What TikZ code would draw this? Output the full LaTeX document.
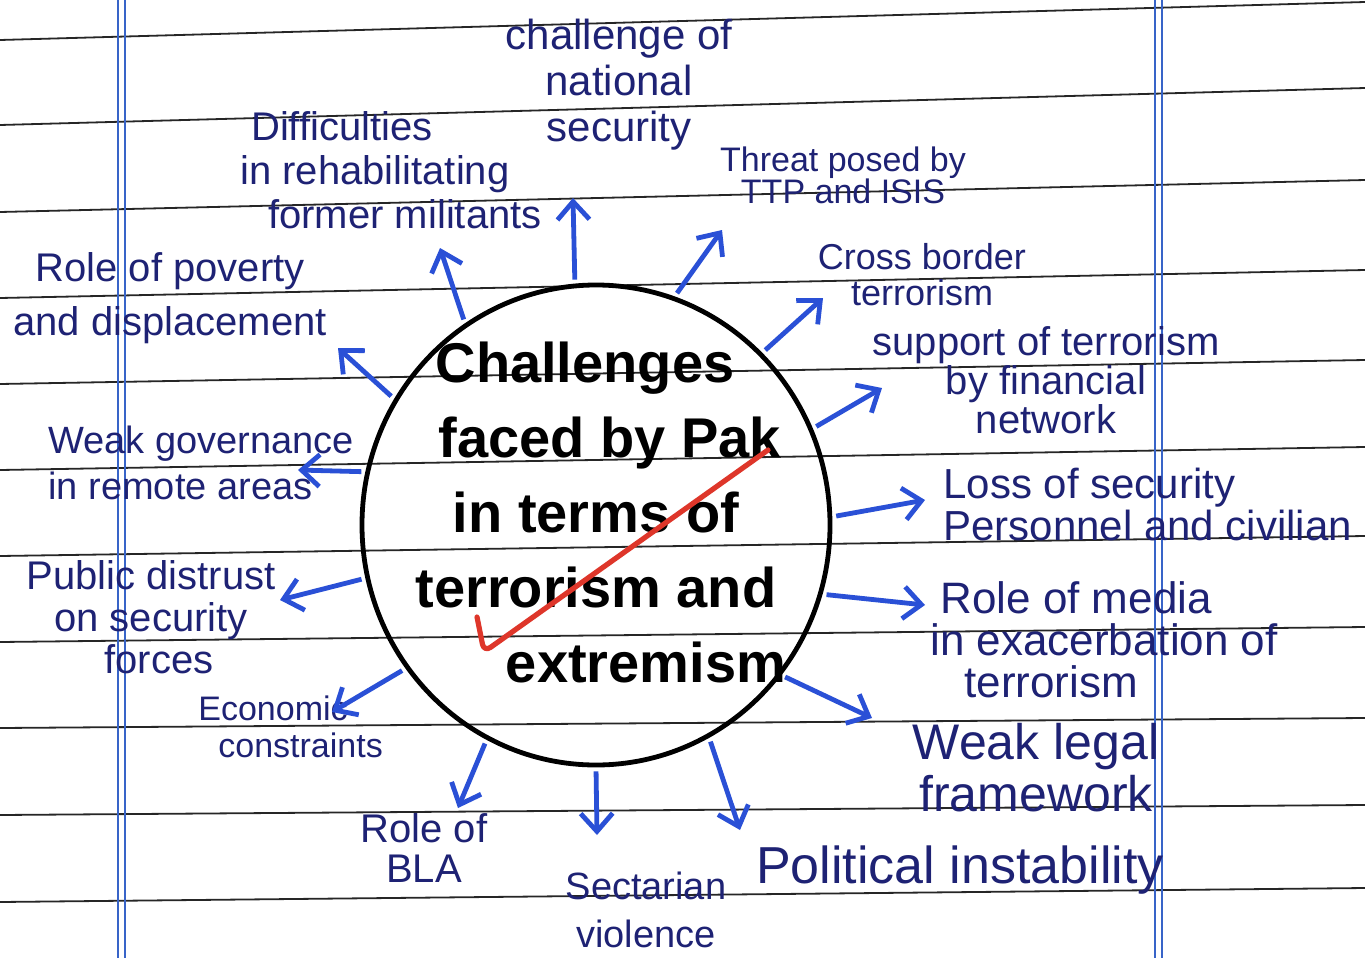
\documentclass[tikz,border=0pt]{standalone}
\usepackage{fontspec}
\setmainfont{Liberation Sans}
\usetikzlibrary{arrows.meta}
\usetikzlibrary{shapes.geometric}
\definecolor{inkblue}{RGB}{30,34,116}
\definecolor{penblue}{RGB}{42,80,214}
\definecolor{marginblue}{RGB}{56,100,200}
\definecolor{checkred}{RGB}{222,54,42}
\newcommand\penfont[2]{\fontsize{#1}{#2}\selectfont}

\begin{document}
\begin{tikzpicture}[x=0.5pt,y=-0.5pt,
  rule/.style={black!85,line width=0.9pt},
  marginline/.style={marginblue,line width=0.8pt},
  hub/.style={ellipse,draw,line width=2.4pt,minimum width=234pt,minimum height=240pt,inner sep=0pt},
  core/.style={align=center,font=\penfont{28}{37.5}\bfseries},
  topic/.style={inkblue,align=center,inner sep=0pt},
  branch/.style={penblue,line width=2.4pt,shorten <=2pt,-{Straight Barb[length=9pt,width=16pt]}}]

\useasboundingbox (0,0) rectangle (1365,958);
\fill[white] (0,0) rectangle (1365,958);

\foreach \yl/\yr in {40/2,125/88,212/180,298/270,384/360,470/447,556/536,642/627,728/718,815/805,902/888}
  \draw[rule] (0,\yl) -- (1365,\yr);
\foreach \xm in {118,125,1155,1162}
  \draw[marginline] (\xm,0) -- (\xm,958);

\node[hub] (hub) at (596,525) {};
\node[core] (title) at (596,512) {Challenges\hspace*{11pt}\\ \hspace*{14pt}faced by Pak\\ in terms of\hspace*{25pt}\\ terrorism and\\ \hspace*{50pt}extremism};

\node[topic,font=\penfont{21}{23}] (security) at (619,85) {challenge of\\national\\security};
\node[topic,font=\penfont{20}{22}] (rehab) at (375,170) {Difficulties\hspace*{33pt}\\in rehabilitating\\ \hspace*{30pt}former militants};
\node[topic,font=\penfont{17}{16}] (ttp) at (843,175) {Threat posed by\\TTP and ISIS};
\node[topic,font=\penfont{18}{18}] (cross) at (922,275) {Cross border\\terrorism};
\node[topic,font=\penfont{20}{17}] (finance) at (1046,380) {support of terrorism\\by financial\hspace*{29pt}\\network};
\node[topic,align=left,anchor=west,font=\penfont{21}{21}] (loss) at (943,504) {Loss of security\\Personnel and civilian};
\node[topic,align=left,anchor=west,font=\penfont{22}{21}] (media) at (930,640) {\hspace*{5pt}Role of media\\in exacerbation of\\ \hspace*{17pt}terrorism};
\node[topic,font=\penfont{25}{26}] (legal) at (1036,768) {Weak legal\\framework};
\node[topic,font=\penfont{26}{26}] (politics) at (960,870) {Political instability};
\node[topic,font=\penfont{19}{24}] (sect) at (646,910) {Sectarian\\violence};
\node[topic,font=\penfont{20}{20}] (bla) at (424,848) {Role of\\BLA};
\node[topic,align=left,anchor=west,font=\penfont{17}{18.5}] (economy) at (198,727) {Economic\\ \hspace*{10pt}constraints};
\node[topic,font=\penfont{20}{21}] (distrust) at (151,617) {Public distrust\\on security\hspace*{30pt}\\ \hspace*{8pt}forces};
\node[topic,align=left,anchor=west,font=\penfont{19}{23}] (governance) at (48,463) {Weak governance\\in remote areas};
\node[topic,font=\penfont{20}{27}] (poverty) at (170,298) {Role of poverty\\and displacement};

\coordinate (to-security) at (573,198);
\coordinate (to-rehab) at (440,248);
\coordinate (to-ttp) at (722,230);
\coordinate (to-cross) at (823,298);
\coordinate (to-finance) at (882,388);
\coordinate (to-loss) at (925,500);
\coordinate (to-media) at (925,605);
\coordinate (to-legal) at (872,718);
\coordinate (to-politics) at (740,830);
\coordinate (to-sect) at (597,835);
\coordinate (to-bla) at (458,808);
\coordinate (to-economy) at (332,712);
\coordinate (to-distrust) at (280,600);
\coordinate (to-governance) at (298,470);
\coordinate (to-poverty) at (338,348);

\foreach \n/\a in {security/95,rehab/123,ttp/71,cross/46,finance/24,loss/2,media/-17,legal/-39,politics/-62,sect/-90,bla/-117,economy/-143,distrust/-167,governance/167,poverty/148}
  \draw[branch] (hub.\a) -- (to-\n);

\draw[checkred,line width=2.6pt,line cap=round,line join=round,rounded corners=4pt] (477,617) -- (484,652) -- (768,450);

\end{tikzpicture}
\end{document}
